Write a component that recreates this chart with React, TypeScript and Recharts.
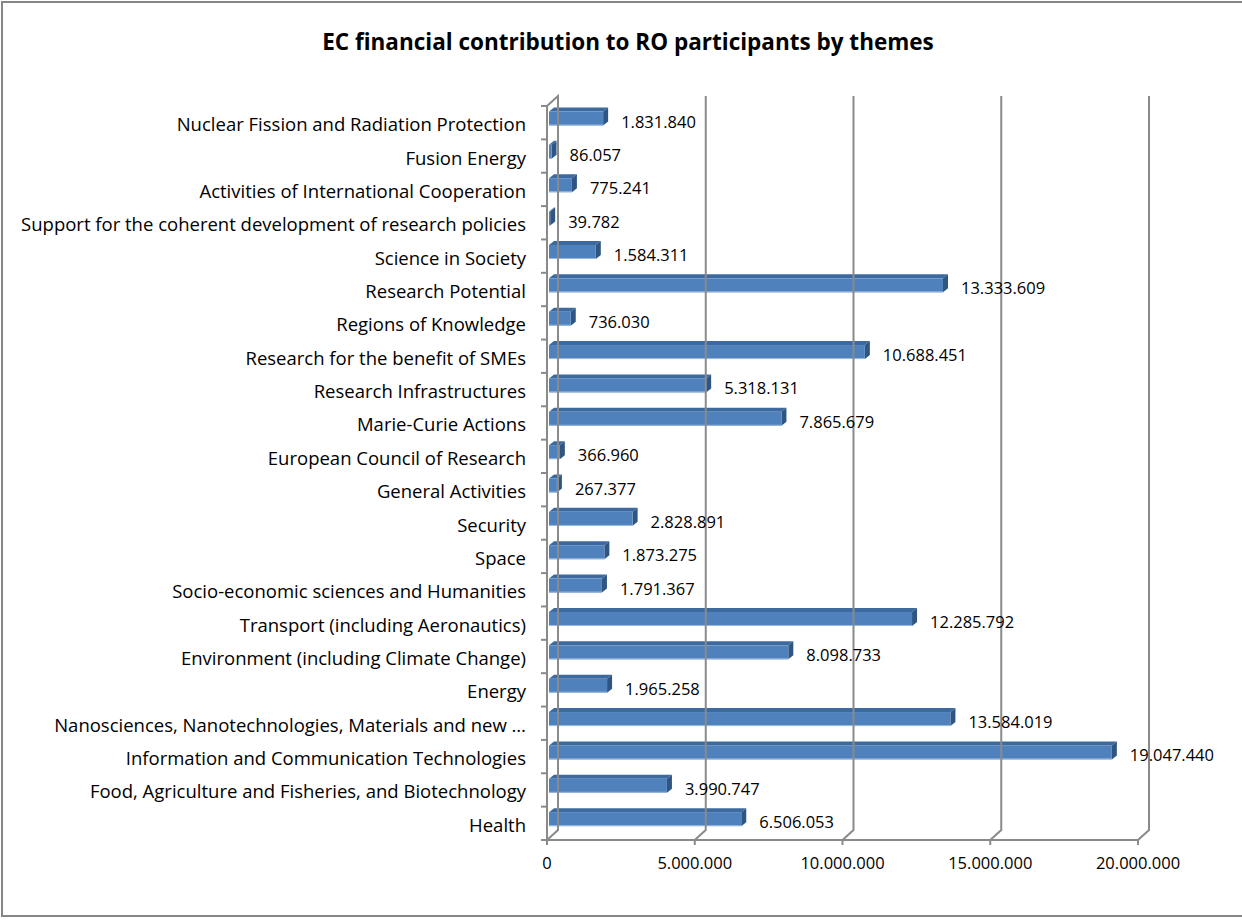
import React from "react";
import { Bar, BarChart, LabelList, ReferenceLine, XAxis, YAxis } from "recharts";

const themes = [
  "Nuclear Fission and Radiation Protection",
  "Fusion Energy",
  "Activities of International Cooperation",
  "Support for the coherent development of research policies",
  "Science in Society",
  "Research Potential",
  "Regions of Knowledge",
  "Research for the benefit of SMEs",
  "Research Infrastructures",
  "Marie-Curie Actions",
  "European Council of Research",
  "General Activities",
  "Security",
  "Space",
  "Socio-economic sciences and Humanities",
  "Transport (including Aeronautics)",
  "Environment (including Climate Change)",
  "Energy",
  "Nanosciences, Nanotechnologies, Materials and new …",
  "Information and Communication Technologies",
  "Food, Agriculture and Fisheries, and Biotechnology",
  "Health",
];

const contribution = [
  1831840, 86057, 775241, 39782, 1584311, 13333609, 736030, 10688451, 5318131, 7865679, 366960,
  267377, 2828891, 1873275, 1791367, 12285792, 8098733, 1965258, 13584019, 19047440, 3990747,
  6506053,
];

const xTicks = [0, 5000000, 10000000, 15000000, 20000000];

const data = themes.map((theme, i) => ({ theme, value: contribution[i] }));

const FONT = "'Open Sans', sans-serif";
const AXIS_GRAY = "#8a8a8a";

// 1234567 -> "1.234.567"
function fmt(v: number) {
  return String(v).replace(/\B(?=(\d{3})+(?!\d))/g, ".");
}

// fake 3D bar like the old excel charts
function Bar3D(props: any) {
  const { y, width, height } = props;
  const x = props.x + 2;
  const d = 5;
  const dy = 4;
  const top = y - 4.5;
  const w = Math.max(width, 1);
  return (
    <g>
      <polygon
        points={`${x},${top} ${x + d},${top - dy} ${x + w + d},${top - dy} ${x + w},${top}`}
        fill="#3d6a9e"
      />
      <polygon
        points={`${x + w},${top} ${x + w + d},${top - dy} ${x + w + d},${top + height - dy} ${x + w},${top + height}`}
        fill="#2f5583"
      />
      <rect x={x} y={top} width={w} height={height} fill="#4f81bd" />
      <line x1={x} y1={top + height - 0.5} x2={x + w} y2={top + height - 0.5} stroke="#9cbbe0" strokeWidth={1} />
    </g>
  );
}

function ValueLabel(props: any) {
  const { x, y, width, height, value } = props;
  return (
    <text x={x + width + 20} y={y + height / 2 - 2} dominantBaseline="central" fontSize={16.5} fontFamily={FONT} fill="#000">
      {fmt(value)}
    </text>
  );
}

function ThemeTick(props: any) {
  const { x, y, payload, index } = props;
  const half = 33.36 / 2;
  return (
    <g>
      <text x={x - 21} y={y + 1} textAnchor="end" dominantBaseline="central" fontSize={18.5} fontFamily={FONT} fill="#000">
        {payload.value}
      </text>
      <line x1={x - 6} x2={x} y1={y - half} y2={y - half} stroke={AXIS_GRAY} strokeWidth={2} />
      {index === themes.length - 1 && (
        <line x1={x - 6} x2={x} y1={y + half} y2={y + half} stroke={AXIS_GRAY} strokeWidth={2} />
      )}
    </g>
  );
}

// back wall line for a tick value, with the diagonal down to the floor
function wallLine(isFirst: boolean) {
  return (props: any) => {
    const x = props.x1;
    const top = Math.min(props.y1, props.y2);
    const bottom = Math.max(props.y1, props.y2);
    const ox = 11;
    const oy = 10;
    const pts = isFirst
      ? `${x},${top} ${x + ox},${top - oy} ${x + ox},${bottom - oy} ${x},${bottom}`
      : `${x + ox},${top - oy} ${x + ox},${bottom - oy} ${x},${bottom}`;
    return <polyline points={pts} fill="none" stroke={AXIS_GRAY} strokeWidth={2} />;
  };
}

export default function App() {
  return (
    <div style={{ position: "absolute", left: 0, top: 0, width: 1242, height: 920, background: "#fff" }}>
      <style>{"body{margin:0}"}</style>
      <div
        style={{
          position: "absolute",
          left: 1,
          top: 1,
          width: 1245,
          height: 916,
          border: "2px solid #868686",
          boxSizing: "border-box",
        }}
      />
      <div
        style={{
          position: "absolute",
          left: 0,
          top: 26,
          width: 1256,
          textAlign: "center",
          fontFamily: FONT,
          fontWeight: 700,
          fontSize: 22.5,
          color: "#000",
        }}
      >
        EC financial contribution to RO participants by themes
      </div>
      <div style={{ position: "absolute", left: 0, top: 0 }}>
        <BarChart
          width={1242}
          height={920}
          data={data}
          layout="vertical"
          margin={{ top: 106, right: 104, left: 0, bottom: 40 }}
          barCategoryGap={0}
        >
          {xTicks.map((t, i) => (
            <ReferenceLine key={t} x={t} shape={wallLine(i === 0)} />
          ))}
          <XAxis
            type="number"
            domain={[0, 20000000]}
            ticks={xTicks}
            tickFormatter={(v: number) => fmt(v)}
            height={40}
            axisLine={{ stroke: AXIS_GRAY, strokeWidth: 2 }}
            tickLine={{ stroke: AXIS_GRAY, strokeWidth: 2 }}
            tickSize={5}
            tick={{ fontSize: 16.5, fontFamily: FONT, fill: "#000", dy: 10 }}
          />
          <YAxis
            type="category"
            dataKey="theme"
            width={547}
            axisLine={{ stroke: AXIS_GRAY, strokeWidth: 2 }}
            tickLine={false}
            tickSize={0}
            tickMargin={0}
            interval={0}
            tick={<ThemeTick />}
          />
          <Bar dataKey="value" barSize={14} shape={<Bar3D />} isAnimationActive={false}>
            <LabelList dataKey="value" content={<ValueLabel />} />
          </Bar>
        </BarChart>
      </div>
    </div>
  );
}
